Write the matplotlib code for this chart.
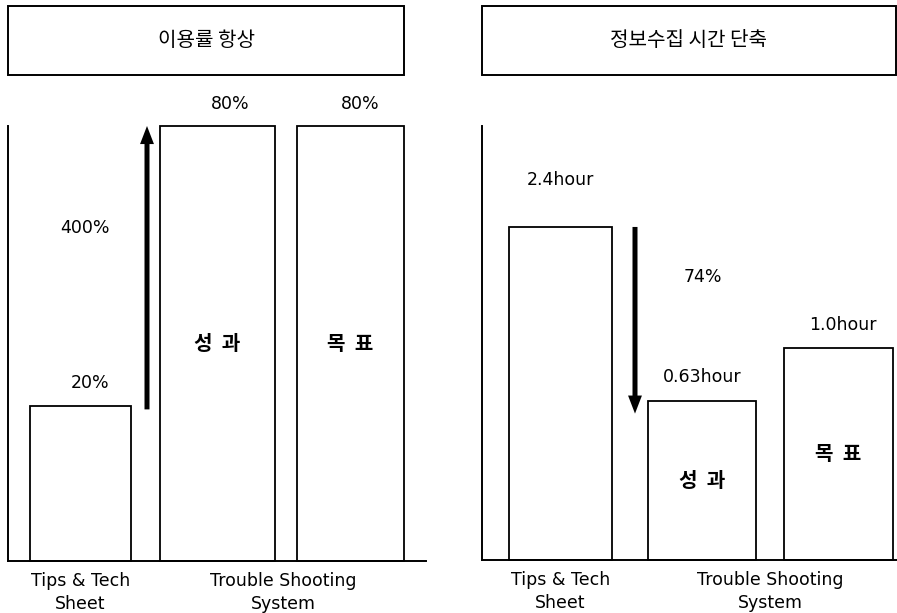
import numpy as np
import matplotlib
matplotlib.use("Agg")
import matplotlib.pyplot as plt
from matplotlib.patches import Rectangle

plt.rcParams['font.family'] = ['DejaVu Sans', 'Noto Sans CJK KR']
KR = ['Noto Sans CJK KR', 'DejaVu Sans']

# ---- data ----
panel_titles = ["이용률 항상", "정보수집 시간 단축"]
tick_labels = ["Tips & Tech\nSheet", "Trouble Shooting\nSystem"]
bar_names = ["", "성 과", "목 표"]

usage_values = [20, 80, 80]          # %
usage_labels = ["20%", "80%", "80%"]

time_values = [2.4, 0.63, 1.0]       # hour
time_labels = ["2.4hour", "0.63hour", "1.0hour"]

# ---- layout (pixels on a 897x613 canvas) ----
W, H = 897, 613
fig = plt.figure(figsize=(W / 100, H / 100), dpi=100)


def px_axes(x0, x1, ytop, ybot):
    return fig.add_axes([x0 / W, 1 - ybot / H, (x1 - x0) / W, (ybot - ytop) / H])


def power_scale(p):
    f = lambda v: np.power(np.clip(v, 0, None), p)
    finv = lambda u: np.power(np.clip(u, 0, None), 1.0 / p)
    return f, finv


def log_scale(k):
    f = lambda v: np.log1p(np.clip(v, 0, None) / k)
    finv = lambda u: k * np.expm1(np.clip(u, 0, None))
    return f, finv


def draw_panel(ax, width_px, centers, widths, values, labels, label_dx, label_dy,
               scale, top, group_tick, arrow_x, arrow_from, arrow_to, note, note_xy):
    f, finv = scale
    ax.set_yscale('function', functions=(f, finv))
    ax.set_ylim(0, top)
    ax.set_xlim(0, width_px)
    for c, w, v in zip(centers, widths, values):
        ax.bar(c, v, width=w, facecolor='white', edgecolor='black',
               linewidth=1.3, clip_on=False, zorder=2)
    for c, v, lab, dx, dy in zip(centers, values, labels, label_dx, label_dy):
        ax.annotate(lab, xy=(c, v), xytext=(dx, dy), textcoords='offset pixels',
                    ha='center', va='center', fontsize=12.5)
    for c, v, name in zip(centers, values, bar_names):
        if name:
            ax.text(c, finv(f(v) / 2), name.replace(' ', '  '), ha='center', va='center',
                    fontsize=14.5, fontweight='bold', family=KR)
    ax.annotate('', xy=(arrow_x, arrow_to), xytext=(arrow_x, arrow_from),
                arrowprops=dict(arrowstyle='simple,head_length=1.3,head_width=1.0,tail_width=0.36',
                                mutation_scale=10, facecolor='black', edgecolor='none',
                                shrinkA=0, shrinkB=0),
                annotation_clip=False, zorder=3)
    ax.text(note_xy[0], note_xy[1], note, transform=ax.transAxes,
            ha='center', va='center', fontsize=12.5)

    for s in ['top', 'right']:
        ax.spines[s].set_visible(False)
    for s in ['left', 'bottom']:
        ax.spines[s].set_linewidth(1.4)
    ax.set_yticks([])
    ax.set_xticks([centers[0], group_tick])
    ax.set_xticklabels(tick_labels, fontsize=12.5, linespacing=1.35)
    ax.tick_params(axis='x', length=0, pad=8)
    ax.set_facecolor('none')


# left panel: usage rate
axL = px_axes(8, 426, 126, 561)
cL = [72.5, 209.5, 342.5]
gain = usage_values[1] / usage_values[0] * 100
draw_panel(axL, 418, cL, [101, 115, 107], usage_values, usage_labels,
           label_dx=[10, 13, 10], label_dy=[23, 22, 22],
           scale=power_scale(0.744), top=80, group_tick=(cL[1] + cL[2]) / 2 - 1,
           arrow_x=139, arrow_from=usage_values[0] * 0.97, arrow_to=usage_values[1],
           note=f"{gain:.0f}%", note_xy=(77 / 418, 0.766))

# right panel: information gathering time
axR = px_axes(482, 897, 126, 560)
cR = [78.5, 220, 356.5]
cut = (1 - time_values[1] / time_values[0]) * 100
draw_panel(axR, 415, cR, [103, 108, 109], time_values, time_labels,
           label_dx=[0, 0, 4], label_dy=[47, 24, 23],
           scale=log_scale(0.43), top=4.58, group_tick=(cR[1] + cR[2]) / 2,
           arrow_x=153, arrow_from=time_values[0], arrow_to=time_values[1] * 0.88,
           note=f"{cut:.0f}%", note_xy=(221 / 415, 0.652))

# title boxes
for (x0, x1), title in zip([(8, 404), (482, 895.5)], panel_titles):
    fig.add_artist(Rectangle((x0 / W, 1 - 75 / H), (x1 - x0) / W, 69 / H,
                             transform=fig.transFigure, fill=False,
                             edgecolor='black', linewidth=1.4))
    fig.text((x0 + x1) / 2 / W, 1 - 41 / H, title, ha='center', va='center',
             fontsize=14.5, family=KR)

fig.savefig("out.png", dpi=100, facecolor='white')
